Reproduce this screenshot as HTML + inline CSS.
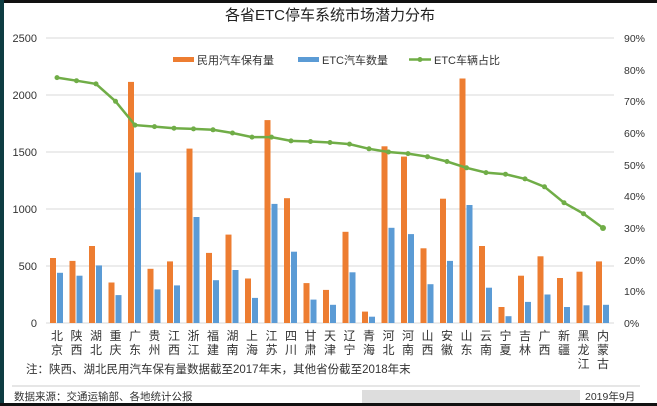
<!DOCTYPE html>
<html><head><meta charset="utf-8"><style>
html,body{margin:0;padding:0;background:#fff}
svg{display:block}
text{font-family:"Liberation Sans","Noto Sans CJK SC",sans-serif}
</style></head><body>
<svg width="657" height="406" viewBox="0 0 657 406" xmlns="http://www.w3.org/2000/svg">
<rect width="657" height="406" fill="#fff"/>
<rect x="0" y="0" width="657" height="3" fill="#111"/>
<rect x="0" y="0" width="4" height="406" fill="#0e3d42"/>
<rect x="0" y="403" width="657" height="3" fill="#111"/>
<text x="330" y="20" font-size="15" text-anchor="middle" fill="#222">各省ETC停车系统市场潜力分布</text>
<g stroke="#d9d9d9" stroke-width="1">
<line x1="46" y1="38" x2="614" y2="38"/><line x1="46" y1="95" x2="614" y2="95"/><line x1="46" y1="152" x2="614" y2="152"/>
<line x1="46" y1="209" x2="614" y2="209"/><line x1="46" y1="266" x2="614" y2="266"/><line x1="46" y1="323" x2="614" y2="323"/>
</g>
<g font-size="11" fill="#333" text-anchor="end">
<text x="37" y="42">2500</text><text x="37" y="99">2000</text><text x="37" y="156">1500</text><text x="37" y="213">1000</text><text x="37" y="270">500</text><text x="37" y="327">0</text>
</g>
<g font-size="10.5" fill="#333">
<text x="624" y="42">90%</text><text x="624" y="74">80%</text><text x="624" y="105">70%</text><text x="624" y="137">60%</text><text x="624" y="169">50%</text><text x="624" y="200">40%</text><text x="624" y="232">30%</text><text x="624" y="264">20%</text><text x="624" y="295">10%</text><text x="624" y="327">0%</text>
</g>
<rect x="173" y="57" width="21" height="5" fill="#ed7d31"/><text x="197" y="64" font-size="11" fill="#333">民用汽车保有量</text>
<rect x="298" y="57" width="21" height="5" fill="#5b9bd5"/><text x="322" y="64" font-size="11" fill="#333">ETC汽车数量</text>
<line x1="409" y1="59.5" x2="431" y2="59.5" stroke="#70ad47" stroke-width="2.5"/><circle cx="420" cy="59.5" r="2.5" fill="#70ad47"/><text x="434" y="64" font-size="11" fill="#333">ETC车辆占比</text>
<g fill="#ed7d31">
<rect x="50" y="258" width="6" height="65"/><rect x="69.5" y="260.9" width="6" height="62.1"/><rect x="89" y="246" width="6" height="77"/><rect x="108.5" y="282.5" width="6" height="40.5"/>
<rect x="128" y="81.9" width="6" height="241.1"/><rect x="147.5" y="268.8" width="6" height="54.2"/><rect x="167" y="261.4" width="6" height="61.6"/><rect x="186.5" y="148.6" width="6" height="174.4"/>
<rect x="206" y="252.9" width="6" height="70.1"/><rect x="225.5" y="234.6" width="6" height="88.4"/><rect x="245" y="278.5" width="6" height="44.5"/><rect x="264.5" y="120.1" width="6" height="202.9"/>
<rect x="284" y="198.2" width="6" height="124.8"/><rect x="303.5" y="283.1" width="6" height="39.9"/><rect x="323" y="289.9" width="6" height="33.1"/><rect x="342.5" y="231.8" width="6" height="91.2"/>
<rect x="362" y="311.6" width="6" height="11.4"/><rect x="381.5" y="146.3" width="6" height="176.7"/><rect x="401" y="156.6" width="6" height="166.4"/><rect x="420.5" y="248.3" width="6" height="74.7"/>
<rect x="440" y="198.7" width="6" height="124.3"/><rect x="459.5" y="78.5" width="6" height="244.5"/><rect x="479" y="246" width="6" height="77"/><rect x="498.5" y="307" width="6" height="16"/>
<rect x="518" y="275.7" width="6" height="47.3"/><rect x="537.5" y="256.3" width="6" height="66.7"/><rect x="557" y="278" width="6" height="45"/><rect x="576.5" y="271.7" width="6" height="51.3"/>
<rect x="596" y="261.4" width="6" height="61.6"/>
</g>
<g fill="#5b9bd5">
<rect x="57" y="272.8" width="6" height="50.2"/><rect x="76.5" y="275.7" width="6" height="47.3"/><rect x="96" y="265.4" width="6" height="57.6"/><rect x="115.5" y="295.1" width="6" height="27.9"/>
<rect x="135" y="172.5" width="6" height="150.5"/><rect x="154.5" y="289.4" width="6" height="33.6"/><rect x="174" y="285.4" width="6" height="37.6"/><rect x="193.5" y="217" width="6" height="106"/>
<rect x="213" y="280.2" width="6" height="42.8"/><rect x="232.5" y="270" width="6" height="53"/><rect x="252" y="297.9" width="6" height="25.1"/><rect x="271.5" y="203.9" width="6" height="119.1"/>
<rect x="291" y="251.7" width="6" height="71.3"/><rect x="310.5" y="299.6" width="6" height="23.4"/><rect x="330" y="304.8" width="6" height="18.2"/><rect x="349.5" y="272.3" width="6" height="50.7"/>
<rect x="369" y="316.7" width="6" height="6.3"/><rect x="388.5" y="227.8" width="6" height="95.2"/><rect x="408" y="234.1" width="6" height="88.9"/><rect x="427.5" y="284.2" width="6" height="38.8"/>
<rect x="447" y="260.9" width="6" height="62.1"/><rect x="466.5" y="205" width="6" height="118"/><rect x="486" y="287.7" width="6" height="35.3"/><rect x="505.5" y="316.2" width="6" height="6.8"/>
<rect x="525" y="301.9" width="6" height="21.1"/><rect x="544.5" y="294.5" width="6" height="28.5"/><rect x="564" y="307" width="6" height="16"/><rect x="583.5" y="305.3" width="6" height="17.7"/>
<rect x="603" y="304.8" width="6" height="18.2"/>
</g>
<polyline fill="none" stroke="#70ad47" stroke-width="2.5" points="57,77.6 76.5,80.7 96,83.9 115.5,101.3 135,125.1 154.5,126.6 174,128.2 193.5,128.9 213,129.8 232.5,133 252,137.1 271.5,137.1 291,140.9 310.5,141.5 330,142.5 349.5,144.1 369,148.8 388.5,152 408,153.6 427.5,156.7 447,161.5 466.5,167.8 486,172.6 505.5,174.2 525,178.9 544.5,186.8 564,202.7 583.5,213.7 603,228"/>
<g fill="#70ad47">
<circle cx="57" cy="77.6" r="2.5"/><circle cx="76.5" cy="80.7" r="2.5"/><circle cx="96" cy="83.9" r="2.5"/><circle cx="115.5" cy="101.3" r="2.5"/><circle cx="135" cy="125.1" r="2.5"/><circle cx="154.5" cy="126.6" r="2.5"/><circle cx="174" cy="128.2" r="2.5"/><circle cx="193.5" cy="128.9" r="2.5"/><circle cx="213" cy="129.8" r="2.5"/><circle cx="232.5" cy="133" r="2.5"/><circle cx="252" cy="137.1" r="2.5"/><circle cx="271.5" cy="137.1" r="2.5"/><circle cx="291" cy="140.9" r="2.5"/><circle cx="310.5" cy="141.5" r="2.5"/><circle cx="330" cy="142.5" r="2.5"/><circle cx="349.5" cy="144.1" r="2.5"/><circle cx="369" cy="148.8" r="2.5"/><circle cx="388.5" cy="152" r="2.5"/><circle cx="408" cy="153.6" r="2.5"/><circle cx="427.5" cy="156.7" r="2.5"/><circle cx="447" cy="161.5" r="2.5"/><circle cx="466.5" cy="167.8" r="2.5"/><circle cx="486" cy="172.6" r="2.5"/><circle cx="505.5" cy="174.2" r="2.5"/><circle cx="525" cy="178.9" r="2.5"/><circle cx="544.5" cy="186.8" r="2.5"/><circle cx="564" cy="202.7" r="2.5"/><circle cx="583.5" cy="213.7" r="2.5"/><circle cx="603" cy="228" r="3"/>
</g>
<g font-size="12" fill="#333" text-anchor="middle">
<text x="57" y="340">北</text><text x="57" y="354">京</text>
<text x="76.5" y="340">陕</text><text x="76.5" y="354">西</text>
<text x="96" y="340">湖</text><text x="96" y="354">北</text>
<text x="115.5" y="340">重</text><text x="115.5" y="354">庆</text>
<text x="135" y="340">广</text><text x="135" y="354">东</text>
<text x="154.5" y="340">贵</text><text x="154.5" y="354">州</text>
<text x="174" y="340">江</text><text x="174" y="354">西</text>
<text x="193.5" y="340">浙</text><text x="193.5" y="354">江</text>
<text x="213" y="340">福</text><text x="213" y="354">建</text>
<text x="232.5" y="340">湖</text><text x="232.5" y="354">南</text>
<text x="252" y="340">上</text><text x="252" y="354">海</text>
<text x="271.5" y="340">江</text><text x="271.5" y="354">苏</text>
<text x="291" y="340">四</text><text x="291" y="354">川</text>
<text x="310.5" y="340">甘</text><text x="310.5" y="354">肃</text>
<text x="330" y="340">天</text><text x="330" y="354">津</text>
<text x="349.5" y="340">辽</text><text x="349.5" y="354">宁</text>
<text x="369" y="340">青</text><text x="369" y="354">海</text>
<text x="388.5" y="340">河</text><text x="388.5" y="354">北</text>
<text x="408" y="340">河</text><text x="408" y="354">南</text>
<text x="427.5" y="340">山</text><text x="427.5" y="354">西</text>
<text x="447" y="340">安</text><text x="447" y="354">徽</text>
<text x="466.5" y="340">山</text><text x="466.5" y="354">东</text>
<text x="486" y="340">云</text><text x="486" y="354">南</text>
<text x="505.5" y="340">宁</text><text x="505.5" y="354">夏</text>
<text x="525" y="340">吉</text><text x="525" y="354">林</text>
<text x="544.5" y="340">广</text><text x="544.5" y="354">西</text>
<text x="564" y="340">新</text><text x="564" y="354">疆</text>
<text x="583.5" y="340">黑</text><text x="583.5" y="354">龙</text><text x="583.5" y="368">江</text>
<text x="603" y="340">内</text><text x="603" y="354">蒙</text><text x="603" y="368">古</text>
</g>
<text x="26" y="373" font-size="11.5" fill="#333">注：陕西、湖北民用汽车保有量数据截至2017年末，其他省份截至2018年末</text>
<line x1="12" y1="386" x2="640" y2="386" stroke="#ccc" stroke-width="1"/>
<text x="14" y="400" font-size="10.5" fill="#333">数据来源：交通运输部、各地统计公报</text>
<rect x="362" y="390" width="218" height="13" fill="#ddd"/>
<text x="585" y="400" font-size="10.5" fill="#333">2019年9月</text>
</svg>
</body></html>
